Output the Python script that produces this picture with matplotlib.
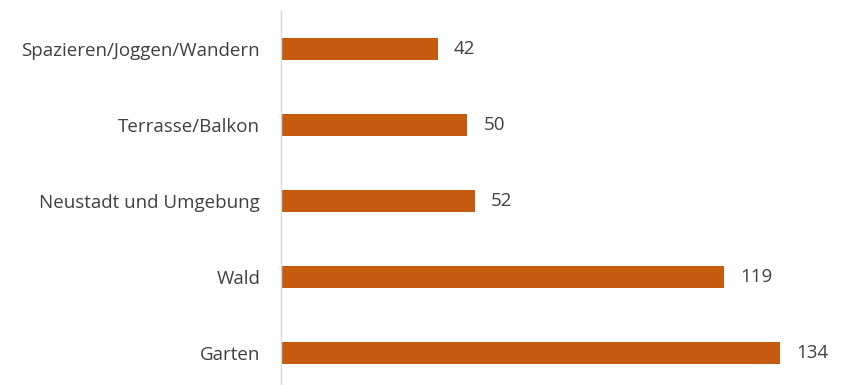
import matplotlib
matplotlib.use("Agg")
import matplotlib.pyplot as plt

categories = ["Garten", "Wald", "Neustadt und Umgebung", "Terrasse/Balkon", "Spazieren/Joggen/Wandern"]
values = [134, 119, 52, 50, 42]

plt.rcParams['font.family'] = ['Open Sans', 'DejaVu Sans']

W, H = 841, 385
fig = plt.figure(figsize=(W/100, H/100), dpi=100)
left = 281 / W
ax_top = 11
ax_bot = 391
ax = fig.add_axes([left, (H - ax_bot) / H, (840 - 281) / W, (ax_bot - ax_top) / H])

pos = list(range(len(categories)))
ax.barh(pos, values, height=0.29, color="#C55A11", zorder=2)
ax.set_xlim(0, 150)
ax.set_ylim(-0.5, 4.5)
ax.set_yticks(pos)
ax.set_yticklabels(categories, fontsize=13.5, color="#404040")
ax.tick_params(axis='y', length=0, pad=15)
ax.set_xticks([])
for s in ["top", "right", "bottom"]:
    ax.spines[s].set_visible(False)
ax.spines["left"].set_color("#D9D9D9")
ax.spines["left"].set_linewidth(1.0)

for p, v in zip(pos, values):
    ax.annotate(str(v), xy=(v, p), xytext=(16, 0), textcoords="offset pixels",
                va="center", ha="left", fontsize=13.5, color="#404040")

fig.savefig("out.png", dpi=100)
